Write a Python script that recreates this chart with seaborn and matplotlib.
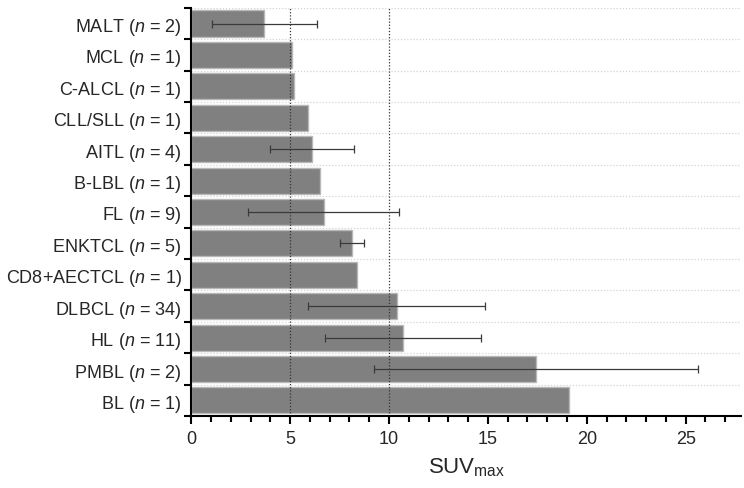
import numpy as np
import pandas as pd
import matplotlib
matplotlib.use('Agg')
import matplotlib.pyplot as plt
from matplotlib.ticker import MultipleLocator, FixedLocator
import seaborn as sns

# data (mean SUVmax +/- SD)
subtypes = ['MALT', 'MCL', 'C-ALCL', 'CLL/SLL', 'AITL', 'B-LBL', 'FL',
            'ENKTCL', 'CD8+AECTCL', 'DLBCL', 'HL', 'PMBL', 'BL']
counts = [2, 1, 1, 1, 4, 1, 9, 5, 1, 34, 11, 2, 1]
suv_mean = [3.7, 5.1, 5.2, 5.9, 6.12, 6.5, 6.7, 8.15, 8.38, 10.4, 10.7, 17.44, 19.08]
suv_sd = [2.65, 0, 0, 0, 2.13, 0, 3.83, 0.61, 0, 4.47, 3.94, 8.19, 0]
ref_lines = [5, 10]

sns.set_style('white')
plt.rcParams['font.family'] = ['Liberation Sans', 'DejaVu Sans']
plt.rcParams['mathtext.fontset'] = 'custom'
plt.rcParams['mathtext.rm'] = 'Liberation Sans'
plt.rcParams['mathtext.it'] = 'Liberation Sans:italic'

labels = [s + ' ($\\it{n}$ = ' + str(c) + ')' for s, c in zip(subtypes, counts)]
df = pd.DataFrame({'label': labels, 'suv': suv_mean, 'sd': suv_sd})

fig = plt.figure(figsize=(7.44, 4.89), dpi=100)
ax = fig.add_subplot(1, 1, 1)
fig.subplots_adjust(left=0.257, right=0.996, top=0.982, bottom=0.147)

sns.barplot(data=df, x='suv', y='label', orient='h', color='#808080',
            saturation=1, width=0.83, errorbar=None, edgecolor='#b8b8b8',
            linewidth=1, ax=ax, zorder=2)

# dotted reference lines sit on top of the bars
for x in ref_lines:
    ax.axvline(x, color='#333333', linestyle=(0, (1, 1.5)), linewidth=0.9, zorder=2.5)

# only draw error bars where there is an SD
has_sd = df['sd'] > 0
ax.errorbar(df.loc[has_sd, 'suv'], np.arange(len(df))[has_sd], xerr=df.loc[has_sd, 'sd'],
            fmt='none', ecolor='#3a3a3a', elinewidth=0.9, capsize=3, capthick=0.9, zorder=3)

ax.set_xlim(0, 27.8)
ax.set_ylim(len(df) - 0.5, -0.5)

ax.xaxis.set_major_locator(MultipleLocator(5))
ax.xaxis.set_minor_locator(MultipleLocator(1))
ax.yaxis.set_minor_locator(FixedLocator(np.arange(len(df) + 1) - 0.5))
ax.grid(False)
ax.grid(True, which='minor', axis='y', color='#d4d4d4', linestyle=(0, (1, 1.5)), linewidth=0.9, zorder=0)
ax.set_axisbelow(True)

ax.tick_params(axis='x', which='both', bottom=True)
ax.tick_params(axis='y', which='both', left=True)
ax.tick_params(axis='x', which='major', direction='out', length=6, width=1.5, labelsize=13, pad=4, color='black')
ax.tick_params(axis='x', which='minor', direction='out', length=4, width=1.5, color='black')
ax.tick_params(axis='y', which='major', length=0, labelsize=13, pad=7)
ax.tick_params(axis='y', which='minor', direction='out', length=5, width=1.5, color='black')

for side in ['top', 'right']:
    ax.spines[side].set_visible(False)
for side in ['left', 'bottom']:
    ax.spines[side].set_color('black')
    ax.spines[side].set_linewidth(1.5)

ax.set_ylabel('')
ax.set_xlabel('SUV$_{\\mathregular{max}}$', fontsize=16, labelpad=6)

fig.savefig('out.png', dpi=100)
